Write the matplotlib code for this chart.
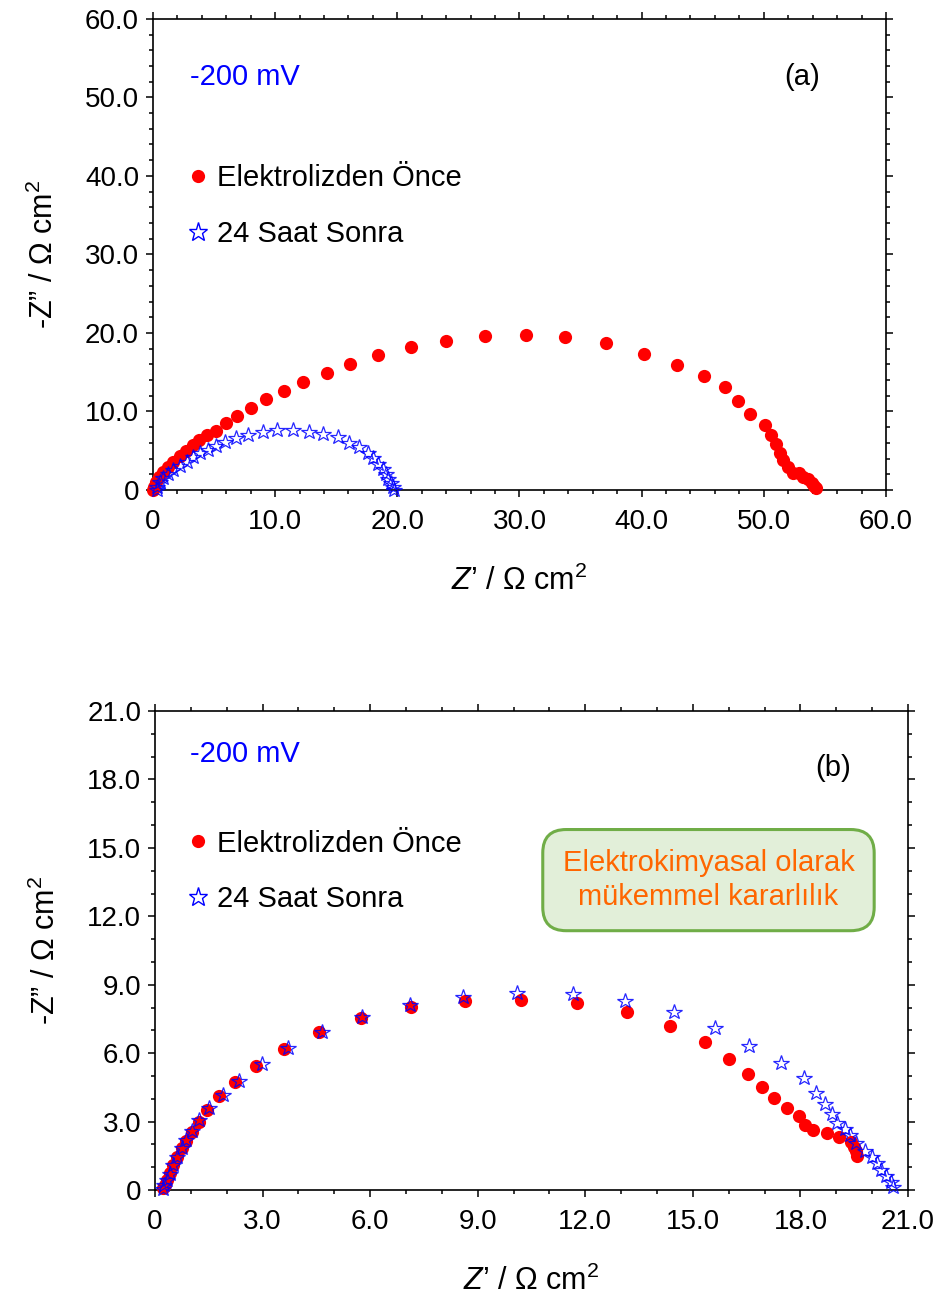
import matplotlib
matplotlib.use("Agg")
import matplotlib.pyplot as plt
from matplotlib.ticker import MultipleLocator, FuncFormatter
from matplotlib.lines import Line2D

plt.rcParams['font.family'] = ['Liberation Sans', 'DejaVu Sans']
plt.rcParams['mathtext.fontset'] = 'custom'
plt.rcParams['mathtext.rm'] = 'Liberation Sans'
plt.rcParams['mathtext.it'] = 'Liberation Sans:italic'

# panel (a): Nyquist data, Z' and -Z'' in ohm cm2
a_before_x = [0.02, 0.08, 0.25, 0.52, 0.84, 1.25, 1.66, 2.21, 2.70, 3.25, 3.79, 4.39, 5.16, 5.97,
              6.90, 8.02, 9.25, 10.72, 12.30, 14.21, 16.12, 18.41, 21.09, 23.98, 27.17, 30.52,
              33.72, 37.07, 40.18, 42.88, 45.09, 46.81, 47.87, 48.85, 50.08, 50.57, 50.98, 51.31,
              51.55, 51.96, 52.37, 52.86, 53.19, 53.60, 53.93, 54.09, 54.26]
a_before_y = [0.00, 0.42, 1.06, 1.69, 2.33, 2.97, 3.61, 4.33, 5.01, 5.73, 6.37, 7.01, 7.55, 8.50,
              9.43, 10.41, 11.55, 12.65, 13.80, 14.94, 16.05, 17.20, 18.25, 18.98, 19.62, 19.75,
              19.49, 18.73, 17.32, 15.92, 14.52, 13.12, 11.34, 9.68, 8.28, 7.01, 5.86, 4.71,
              3.82, 2.93, 2.17, 2.17, 1.66, 1.40, 0.89, 0.51, 0.25]
a_after_x = [0.30, 0.35, 0.57, 0.84, 1.25, 1.66, 2.21, 2.76, 3.30, 3.85, 4.53, 5.16, 5.89, 6.77,
             7.75, 8.97, 10.12, 11.48, 12.77, 13.94, 15.11, 16.07, 16.83, 17.57, 18.03, 18.44,
             18.85, 19.07, 19.26, 19.45, 19.61, 19.72]
a_after_y = [0.00, 0.42, 0.98, 1.49, 2.04, 2.55, 3.10, 3.61, 4.16, 4.67, 5.10, 5.61, 6.07, 6.58,
             7.01, 7.39, 7.64, 7.64, 7.43, 7.09, 6.71, 6.03, 5.52, 4.75, 4.03, 3.31, 2.64, 2.04,
             1.36, 0.85, 0.42, 0.00]

# panel (b)
b_before_x = [0.23, 0.27, 0.33, 0.42, 0.51, 0.62, 0.74, 0.86, 1.02, 1.22, 1.46, 1.78, 2.22, 2.82,
              3.60, 4.57, 5.74, 7.13, 8.64, 10.20, 11.78, 13.17, 14.36, 15.33, 16.02, 16.54,
              16.94, 17.26, 17.62, 17.95, 18.13, 18.34, 18.75, 19.07, 19.40, 19.49, 19.55, 19.57]
b_before_y = [0.07, 0.22, 0.44, 0.73, 1.10, 1.46, 1.83, 2.15, 2.54, 3.00, 3.51, 4.11, 4.75, 5.45,
              6.18, 6.91, 7.55, 8.04, 8.30, 8.33, 8.21, 7.82, 7.20, 6.50, 5.74, 5.09, 4.50, 4.02,
              3.58, 3.26, 2.85, 2.63, 2.51, 2.34, 2.12, 1.90, 1.72, 1.49]
b_after_x = [0.22, 0.26, 0.32, 0.41, 0.50, 0.61, 0.74, 0.86, 1.02, 1.24, 1.51, 1.89, 2.35, 2.97,
             3.72, 4.65, 5.77, 7.11, 8.58, 10.10, 11.65, 13.10, 14.47, 15.63, 16.57, 17.45,
             18.10, 18.43, 18.68, 18.87, 19.03, 19.24, 19.38, 19.55, 19.80, 19.99, 20.13, 20.26,
             20.40, 20.52, 20.59]
b_after_y = [0.05, 0.20, 0.42, 0.72, 1.08, 1.45, 1.83, 2.19, 2.60, 3.07, 3.58, 4.16, 4.79, 5.52,
             6.21, 6.94, 7.60, 8.11, 8.47, 8.62, 8.58, 8.30, 7.82, 7.09, 6.33, 5.55, 4.90, 4.27,
             3.77, 3.33, 2.95, 2.66, 2.41, 2.07, 1.72, 1.46, 1.17, 0.88, 0.61, 0.36, 0.14]

labels = ['Elektrolizden Önce', '24 Saat Sonra']
potential = '-200 mV'

RED = '#ff0000'
BLUE = '#0000ff'
FS_TICK = 20
FS_TEXT = 21
FS_LABEL = 22


def fmt(v, pos):
    return '0' if abs(v) < 1e-9 else f'{v:.1f}'


def style_axes(ax, lim, major, minor):
    ax.set_xlim(0, lim)
    ax.set_ylim(0, lim)
    ax.xaxis.set_major_locator(MultipleLocator(major))
    ax.xaxis.set_minor_locator(MultipleLocator(minor))
    ax.yaxis.set_major_locator(MultipleLocator(major))
    ax.yaxis.set_minor_locator(MultipleLocator(minor))
    ax.xaxis.set_major_formatter(FuncFormatter(fmt))
    ax.yaxis.set_major_formatter(FuncFormatter(fmt))
    ax.tick_params(which='both', direction='out', top=True, right=True, labelsize=FS_TICK, width=1.1)
    ax.tick_params(which='major', length=5)
    ax.tick_params(which='minor', length=3)
    ax.tick_params(axis='x', which='major', pad=9)
    ax.tick_params(axis='y', which='major', pad=5)
    for s in ax.spines.values():
        s.set_linewidth(1.2)
    ax.set_xlabel(r'$\mathit{Z}$’ / Ω cm$^{2}$', fontsize=FS_LABEL, labelpad=22)
    ax.set_ylabel('-Z” / Ω cm$^{2}$', fontsize=FS_LABEL, labelpad=18)


def draw(ax, bx, by, ax_x, ax_y, leg_x, leg_y):
    ax.plot(bx, by, 'o', color=RED, markersize=9.5, markeredgewidth=0, clip_on=False, zorder=3)
    ax.plot(ax_x, ax_y, '*', markerfacecolor='none', markeredgecolor=BLUE, markersize=11.5,
            markeredgewidth=0.9, alpha=0.85, clip_on=False, zorder=4)
    handles = [Line2D([], [], marker='o', ls='none', color=RED, markersize=9.5, markeredgewidth=0),
               Line2D([], [], marker='*', ls='none', markerfacecolor='none', markeredgecolor=BLUE,
                      markersize=14, markeredgewidth=1.0)]
    ax.legend(handles, labels, loc='center left', bbox_to_anchor=(leg_x, leg_y), frameon=False,
              fontsize=FS_TEXT, handlelength=0.6, handletextpad=0.35, labelspacing=0.95,
              borderaxespad=0, borderpad=0)


fig = plt.figure(figsize=(9.39, 13.02), dpi=100)

ax1 = fig.add_axes([0.1629, 0.6237, 0.7806, 0.3618])
draw(ax1, a_before_x, a_before_y, a_after_x, a_after_y, 0.050, 0.603)
style_axes(ax1, 60, 10, 2)
ax1.text(0.05, 0.877, potential, transform=ax1.transAxes, color=BLUE, fontsize=FS_TEXT,
         va='center', ha='left')
ax1.text(0.885, 0.877, '(a)', transform=ax1.transAxes, fontsize=FS_TEXT, va='center', ha='center')

ax2 = fig.add_axes([0.1651, 0.0860, 0.8019, 0.3679])
draw(ax2, b_before_x, b_before_y, b_after_x, b_after_y, 0.046, 0.665)
style_axes(ax2, 21, 3, 1)
ax2.text(0.046, 0.91, potential, transform=ax2.transAxes, color=BLUE, fontsize=FS_TEXT,
         va='center', ha='left')
ax2.text(0.90, 0.881, '(b)', transform=ax2.transAxes, fontsize=FS_TEXT, va='center', ha='center')
ax2.text(0.735, 0.647, 'Elektrokimyasal olarak\nmükemmel kararlılık', transform=ax2.transAxes,
         color='#ff6600', fontsize=FS_TEXT, ha='center', va='center', linespacing=1.25,
         bbox=dict(boxstyle='round,pad=0.68,rounding_size=0.8', facecolor='#e2efd9',
                   edgecolor='#70ad47', linewidth=2.2))

fig.savefig('out.png', dpi=100)
